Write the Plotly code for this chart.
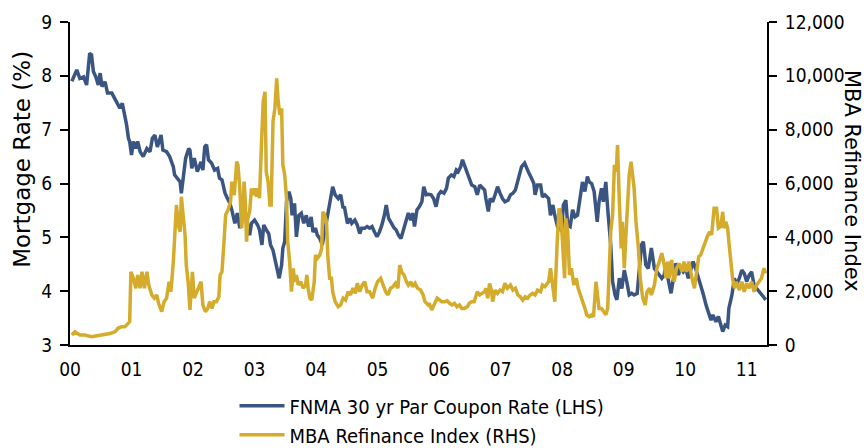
import plotly.graph_objects as go

# FNMA 30 yr par coupon rate (%) (decimal years)
rate_years = [
    2000.03, 2000.11, 2000.16, 2000.22, 2000.27, 2000.32, 2000.35, 2000.38, 2000.42, 2000.46,
    2000.49, 2000.52, 2000.57, 2000.61, 2000.68, 2000.73, 2000.77, 2000.81, 2000.85, 2000.89,
    2000.92, 2000.95, 2000.97, 2001.00, 2001.03, 2001.07, 2001.10, 2001.14, 2001.19, 2001.25,
    2001.30, 2001.34, 2001.38, 2001.42, 2001.48, 2001.51, 2001.57, 2001.62, 2001.68, 2001.70,
    2001.75, 2001.79, 2001.81, 2001.84, 2001.88, 2001.93, 2001.95, 2001.98, 2002.02, 2002.07,
    2002.13, 2002.16, 2002.19, 2002.22, 2002.25, 2002.30, 2002.35, 2002.40, 2002.43, 2002.47,
    2002.52, 2002.56, 2002.60, 2002.63, 2002.68, 2002.72, 2002.76, 2002.81, 2002.84, 2002.88,
    2002.92, 2002.95, 2003.00, 2003.05, 2003.08, 2003.12, 2003.15, 2003.19, 2003.23, 2003.26,
    2003.30, 2003.34, 2003.37, 2003.40, 2003.44, 2003.46, 2003.49, 2003.52, 2003.56, 2003.59,
    2003.61, 2003.65, 2003.68, 2003.72, 2003.76, 2003.80, 2003.84, 2003.88, 2003.92, 2003.95,
    2003.99, 2004.02, 2004.06, 2004.10, 2004.13, 2004.17, 2004.22, 2004.27, 2004.31, 2004.36,
    2004.40, 2004.44, 2004.46, 2004.51, 2004.55, 2004.58, 2004.63, 2004.67, 2004.71, 2004.74,
    2004.79, 2004.83, 2004.87, 2004.91, 2004.95, 2004.99, 2005.03, 2005.07, 2005.11, 2005.14,
    2005.18, 2005.22, 2005.27, 2005.30, 2005.34, 2005.38, 2005.43, 2005.47, 2005.50, 2005.54,
    2005.57, 2005.60, 2005.64, 2005.68, 2005.72, 2005.75, 2005.79, 2005.83, 2005.87, 2005.91,
    2005.95, 2005.99, 2006.03, 2006.08, 2006.12, 2006.15, 2006.20, 2006.24, 2006.28, 2006.31,
    2006.35, 2006.38, 2006.42, 2006.46, 2006.49, 2006.53, 2006.58, 2006.62, 2006.66, 2006.69,
    2006.74, 2006.76, 2006.80, 2006.83, 2006.87, 2006.91, 2006.95, 2006.99, 2007.03, 2007.07,
    2007.12, 2007.16, 2007.20, 2007.24, 2007.27, 2007.31, 2007.34, 2007.39, 2007.41, 2007.45,
    2007.50, 2007.54, 2007.56, 2007.60, 2007.65, 2007.68, 2007.72, 2007.78, 2007.81, 2007.85,
    2007.88, 2007.93, 2007.95, 2007.99, 2008.02, 2008.06, 2008.09, 2008.13, 2008.17, 2008.21,
    2008.25, 2008.30, 2008.33, 2008.37, 2008.41, 2008.44, 2008.48, 2008.52, 2008.57, 2008.60,
    2008.64, 2008.67, 2008.71, 2008.74, 2008.77, 2008.79, 2008.82, 2008.86, 2008.89, 2008.93,
    2008.97, 2009.01, 2009.05, 2009.09, 2009.13, 2009.17, 2009.22, 2009.25, 2009.29, 2009.32,
    2009.36, 2009.40, 2009.43, 2009.45, 2009.50, 2009.54, 2009.58, 2009.62, 2009.66, 2009.68,
    2009.72, 2009.77, 2009.81, 2009.85, 2009.89, 2009.93, 2009.97, 2010.01, 2010.05, 2010.09,
    2010.13, 2010.17, 2010.22, 2010.25, 2010.29, 2010.34, 2010.38, 2010.42, 2010.45, 2010.50,
    2010.54, 2010.58, 2010.61, 2010.65, 2010.69, 2010.71, 2010.76, 2010.80, 2010.83, 2010.88,
    2010.92, 2010.96, 2011.00, 2011.04, 2011.08, 2011.12, 2011.16, 2011.20, 2011.25, 2011.31,
]
rate_values = [
    7.90, 8.11, 7.95, 7.98, 7.83, 8.42, 8.39, 8.08, 7.98, 7.83,
    8.05, 7.80, 7.89, 7.68, 7.68, 7.58, 7.49, 7.40, 7.49, 7.30,
    7.09, 6.84, 6.78, 6.53, 6.78, 6.65, 6.78, 6.59, 6.50, 6.65,
    6.59, 6.84, 6.90, 6.68, 6.90, 6.62, 6.59, 6.50, 6.31, 6.16,
    6.10, 6.03, 5.82, 6.16, 6.47, 6.65, 6.62, 6.28, 6.47, 6.22,
    6.40, 6.25, 6.68, 6.72, 6.44, 6.38, 6.25, 6.28, 6.10, 6.07,
    5.82, 5.72, 5.63, 5.51, 5.26, 5.45, 5.17, 5.41, 5.51, 5.29,
    5.04, 5.26, 5.32, 5.23, 5.14, 4.86, 5.23, 5.14, 5.07, 4.86,
    4.76, 4.55, 4.42, 4.24, 4.49, 4.80, 4.92, 5.66, 5.85, 5.72,
    5.41, 5.63, 5.01, 5.41, 5.45, 5.26, 5.41, 5.20, 5.38, 5.10,
    5.17, 5.04, 4.98, 4.86, 5.04, 5.29, 5.66, 5.94, 5.79, 5.72,
    5.79, 5.54, 5.57, 5.26, 5.35, 5.26, 5.32, 5.23, 5.07, 5.17,
    5.17, 5.20, 5.17, 5.20, 5.10, 5.01, 5.10, 5.23, 5.41, 5.60,
    5.35, 5.26, 5.17, 5.14, 5.04, 4.98, 5.17, 5.35, 5.45, 5.32,
    5.45, 5.20, 5.51, 5.57, 5.66, 5.94, 5.79, 5.80, 5.79, 5.72,
    5.57, 5.79, 5.85, 5.82, 5.91, 6.10, 6.16, 6.13, 6.25, 6.22,
    6.31, 6.44, 6.31, 6.16, 6.10, 5.97, 5.94, 5.79, 5.97, 5.94,
    5.88, 5.72, 5.48, 5.72, 5.66, 5.79, 5.94, 5.82, 5.72, 5.66,
    5.69, 5.79, 5.82, 5.88, 6.03, 6.19, 6.31, 6.38, 6.31, 6.22,
    6.10, 6.00, 5.79, 5.97, 5.97, 5.75, 5.79, 5.72, 5.41, 5.60,
    5.41, 5.17, 5.35, 5.10, 5.60, 5.69, 5.23, 5.20, 5.51, 5.38,
    5.41, 5.85, 6.03, 5.85, 6.13, 6.03, 6.00, 5.85, 5.29, 5.66,
    5.91, 5.66, 6.03, 5.54, 5.10, 4.86, 4.18, 3.93, 3.84, 4.24,
    4.05, 4.39, 4.18, 3.93, 3.96, 3.93, 3.96, 4.42, 4.86, 4.92,
    4.49, 4.42, 4.70, 4.80, 4.42, 4.36, 4.30, 4.24, 4.30, 4.52,
    4.24, 3.96, 4.24, 4.52, 4.30, 4.45, 4.36, 4.42, 4.24, 4.42,
    4.55, 4.42, 4.24, 4.11, 3.96, 3.74, 3.62, 3.46, 3.56, 3.43,
    3.53, 3.37, 3.25, 3.37, 3.34, 3.68, 3.93, 4.24, 4.11, 4.24,
    4.39, 4.33, 4.18, 4.30, 4.36, 4.11, 4.05, 3.99, 3.93, 3.84,
]

# MBA Refinance Index (decimal years)
refi_years = [
    2000.03, 2000.08, 2000.16, 2000.24, 2000.35, 2000.46, 2000.57, 2000.65, 2000.73, 2000.78,
    2000.84, 2000.89, 2000.95, 2000.97, 2000.99, 2001.03, 2001.07, 2001.10, 2001.14, 2001.17,
    2001.21, 2001.25, 2001.28, 2001.33, 2001.37, 2001.41, 2001.44, 2001.49, 2001.53, 2001.57,
    2001.61, 2001.64, 2001.68, 2001.70, 2001.73, 2001.76, 2001.79, 2001.81, 2001.84, 2001.87,
    2001.89, 2001.92, 2001.95, 2001.99, 2002.02, 2002.06, 2002.09, 2002.13, 2002.16, 2002.20,
    2002.24, 2002.27, 2002.31, 2002.34, 2002.38, 2002.42, 2002.44, 2002.47, 2002.50, 2002.53,
    2002.57, 2002.61, 2002.63, 2002.67, 2002.71, 2002.73, 2002.76, 2002.79, 2002.81, 2002.83,
    2002.85, 2002.87, 2002.89, 2002.92, 2002.95, 2002.98, 2003.00, 2003.03, 2003.06, 2003.08,
    2003.11, 2003.14, 2003.17, 2003.19, 2003.22, 2003.25, 2003.27, 2003.30, 2003.33, 2003.36,
    2003.38, 2003.41, 2003.44, 2003.46, 2003.49, 2003.52, 2003.54, 2003.57, 2003.60, 2003.63,
    2003.65, 2003.68, 2003.71, 2003.75, 2003.79, 2003.83, 2003.85, 2003.87, 2003.90, 2003.93,
    2003.97, 2003.99, 2004.02, 2004.06, 2004.09, 2004.11, 2004.14, 2004.17, 2004.19, 2004.22,
    2004.25, 2004.27, 2004.31, 2004.36, 2004.40, 2004.44, 2004.48, 2004.52, 2004.56, 2004.60,
    2004.64, 2004.67, 2004.71, 2004.75, 2004.79, 2004.83, 2004.87, 2004.92, 2004.96, 2005.00,
    2005.05, 2005.09, 2005.13, 2005.17, 2005.21, 2005.25, 2005.29, 2005.33, 2005.36, 2005.39,
    2005.43, 2005.47, 2005.50, 2005.54, 2005.57, 2005.61, 2005.65, 2005.70, 2005.74, 2005.77,
    2005.82, 2005.84, 2005.88, 2005.93, 2005.97, 2006.01, 2006.04, 2006.09, 2006.13, 2006.17,
    2006.21, 2006.25, 2006.29, 2006.33, 2006.37, 2006.41, 2006.46, 2006.49, 2006.53, 2006.57,
    2006.62, 2006.66, 2006.69, 2006.74, 2006.76, 2006.79, 2006.82, 2006.85, 2006.87, 2006.91,
    2006.95, 2006.99, 2007.03, 2007.07, 2007.11, 2007.16, 2007.20, 2007.24, 2007.28, 2007.32,
    2007.36, 2007.40, 2007.44, 2007.48, 2007.52, 2007.56, 2007.60, 2007.65, 2007.68, 2007.72,
    2007.74, 2007.78, 2007.81, 2007.85, 2007.88, 2007.92, 2007.95, 2007.98, 2008.01, 2008.04,
    2008.06, 2008.09, 2008.12, 2008.15, 2008.19, 2008.23, 2008.26, 2008.30, 2008.33, 2008.37,
    2008.40, 2008.44, 2008.48, 2008.51, 2008.55, 2008.58, 2008.60, 2008.64, 2008.67, 2008.71,
    2008.74, 2008.77, 2008.79, 2008.82, 2008.85, 2008.88, 2008.90, 2008.93, 2008.96, 2008.98,
    2009.01, 2009.04, 2009.06, 2009.09, 2009.12, 2009.14, 2009.17, 2009.20, 2009.24, 2009.27,
    2009.31, 2009.35, 2009.38, 2009.42, 2009.45, 2009.50, 2009.54, 2009.58, 2009.62, 2009.65,
    2009.69, 2009.72, 2009.74, 2009.78, 2009.82, 2009.86, 2009.90, 2009.95, 2009.98, 2010.02,
    2010.06, 2010.11, 2010.15, 2010.18, 2010.22, 2010.25, 2010.29, 2010.32, 2010.36, 2010.40,
    2010.43, 2010.47, 2010.51, 2010.54, 2010.58, 2010.61, 2010.63, 2010.66, 2010.69, 2010.71,
    2010.74, 2010.77, 2010.80, 2010.83, 2010.88, 2010.92, 2010.96, 2011.00, 2011.04, 2011.08,
    2011.12, 2011.16, 2011.20, 2011.24, 2011.28, 2011.31,
]
refi_values = [
    370, 490, 370, 370, 310, 350, 370, 430, 490, 620,
    680, 680, 810, 870, 2720, 2480, 2110, 2600, 2110, 2720,
    2110, 2720, 2230, 1860, 1740, 1860, 1550, 1240, 1610, 1740,
    2350, 1980, 3100, 4210, 5200, 4460, 4210, 5510, 4830, 4090,
    2970, 2350, 1300, 2720, 1740, 1980, 2110, 2350, 1490, 1240,
    1360, 1610, 1360, 1610, 1610, 1790, 2600, 2720, 3720, 4830,
    5020, 5320, 6070, 5570, 6810, 6690, 5820, 4340, 4830, 6070,
    5320, 3840, 4710, 4950, 5820, 5570, 5820, 5510, 5820, 5450,
    7310, 9040, 9410, 6440, 6070, 5200, 5200, 8300, 8790, 9910,
    9170, 8550, 8790, 6690, 6320, 5450, 3840, 3100, 1980, 2850,
    2350, 2600, 2230, 2350, 2110, 2230, 2600, 2110, 1740, 1670,
    2350, 3340, 3220, 3340, 3590, 4950, 4830, 4580, 3340, 2480,
    2480, 1980, 1610, 1420, 1490, 1740, 1670, 1980, 1860, 2110,
    1920, 2290, 1980, 2230, 2350, 1980, 1980, 1740, 2110, 2350,
    2480, 2230, 1980, 1860, 2110, 2170, 2290, 2110, 2970, 2720,
    2600, 2350, 2230, 2350, 2170, 2290, 2110, 2040, 1860, 1610,
    1490, 1550, 1300, 1550, 1740, 1670, 1610, 1610, 1640, 1550,
    1490, 1550, 1420, 1490, 1360, 1360, 1420, 1550, 1610, 1610,
    1980, 1860, 1920, 1980, 2110, 1740, 2290, 2040, 1610, 2040,
    1920, 2040, 1980, 2290, 2110, 2230, 2040, 2110, 1860, 1790,
    1670, 1790, 1740, 1860, 1920, 1860, 2040, 1980, 2230, 2170,
    2230, 2350, 2850, 2110, 1610, 3840, 5080, 4830, 3590, 2480,
    4710, 4210, 2600, 2850, 2230, 2480, 2110, 1860, 1610, 1360,
    1120, 1050, 1120, 1050, 2350, 1860, 1360, 1360, 1240, 1120,
    1360, 3590, 4210, 4830, 6690, 6440, 7430, 5320, 3590, 4580,
    2850, 4210, 5320, 6320, 6810, 6440, 5820, 4580, 3590, 2480,
    1740, 1490, 1980, 2110, 1860, 2230, 2850, 3100, 3410, 3100,
    2480, 3100, 2480, 3160, 2350, 2850, 3030, 2720, 3100, 2720,
    3100, 2480, 2110, 2600, 3280, 3340, 3590, 3840, 4030, 4210,
    4090, 5080, 5080, 4340, 4400, 4950, 4340, 4580, 4340, 3840,
    3100, 2480, 2110, 2350, 2040, 2350, 1980, 2290, 2110, 2350,
    1980, 2230, 2350, 2480, 2850, 2660,
]

year_ticks = list(range(2000, 2012))
year_labels = ["00", "01", "02", "03", "04", "05", "06", "07", "08", "09", "10", "11"]

BLUE = "#3b5583"
GOLD = "#d4ab2b"
FLAT = "DejaVu Sans Condensed, DejaVu Sans, sans-serif"
WIDE = "DejaVu Sans, sans-serif"

fig = go.Figure()
fig.add_trace(go.Scatter(x=rate_years, y=rate_values, mode="lines",
                         name="FNMA 30 yr Par Coupon Rate (LHS)", legendgroup="a",
                         line=dict(color=BLUE, width=3.5)))
fig.add_trace(go.Scatter(x=refi_years, y=refi_values, mode="lines", yaxis="y2",
                         name="MBA Refinance Index (RHS)", legendgroup="b",
                         line=dict(color=GOLD, width=3.5)))

fig.update_layout(
    width=864, height=448,
    margin=dict(l=70, r=97, t=22, b=103, autoexpand=False),
    paper_bgcolor="white", plot_bgcolor="white",
    font=dict(family=FLAT, size=20, color="black"),
    showlegend=True,
    legend=dict(orientation="v", x=0.236, y=-0.128, xanchor="left", yanchor="top",
                font=dict(family=FLAT, size=20), tracegroupgap=0, itemwidth=45,
                bgcolor="rgba(0,0,0,0)"),
    xaxis=dict(range=[2000, 2011.33], tickvals=year_ticks, ticktext=year_labels,
               tickfont=dict(size=19),
               showline=True, linecolor="black", linewidth=2, ticks="",
               showgrid=False, zeroline=False, ticklabelstandoff=6),
    yaxis=dict(range=[3, 9], dtick=1, showline=True, linecolor="black", linewidth=2,
               tickfont=dict(size=19),
               ticks="outside", ticklen=8, tickwidth=2, tickcolor="black",
               showgrid=False, zeroline=False, ticklabelstandoff=4),
    yaxis2=dict(range=[0, 12000], dtick=2000, tickformat=",", overlaying="y", side="right",
                tickfont=dict(size=19),
                showline=True, linecolor="black", linewidth=2,
                ticks="outside", ticklen=8, tickwidth=2, tickcolor="black",
                showgrid=False, zeroline=False, ticklabelstandoff=4),
    annotations=[
        dict(text="Mortgage Rate (%)", xref="paper", yref="paper", x=-0.069, y=0.576,
             xanchor="center", yanchor="middle",
             textangle=-90, showarrow=False, font=dict(family=WIDE, size=23)),
        dict(text="MBA Refinance Index", xref="paper", yref="paper", x=1.122, y=0.508,
             xanchor="center", yanchor="middle",
             textangle=90, showarrow=False, font=dict(family=WIDE, size=21)),
    ],
)

# drop the browser's default body margin so the figure sits at the page corner
fig.write_html("out.html", config={"displayModeBar": False},
               post_script="document.body.style.margin='0';")
